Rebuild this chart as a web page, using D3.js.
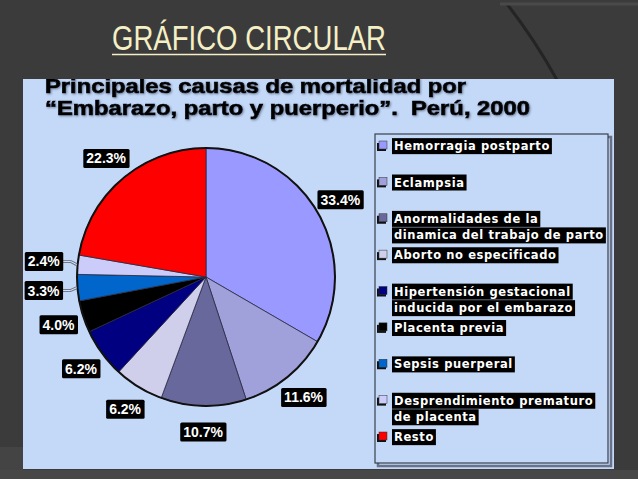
<!DOCTYPE html>
<html>
<head>
    <meta charset="UTF-8">
    <title>Gráfico circular</title>
    <script src="https://d3js.org/d3.v7.min.js"></script>
    <style>
        body { margin: 0; background: #3b3b3b; }
        svg { display: block; }
    </style>
</head>
<body>
    <svg id="chart"></svg>

    <script>
        // data
        const causes = [
            "Hemorragia postparto",
            "Eclampsia",
            "Anormalidades de la|dinamica del trabajo de parto",
            "Aborto no especificado",
            "Hipertensión gestacional|inducida por el embarazo",
            "Placenta previa",
            "Sepsis puerperal",
            "Desprendimiento prematuro|de placenta",
            "Resto"
        ];
        const values = [33.4, 11.6, 10.7, 6.2, 6.2, 4.0, 3.3, 2.4, 22.3];
        const labels = ["33.4%", "11.6%", "10.7%", "6.2%", "6.2%", "4.0%", "3.3%", "2.4%", "22.3%"];
        const colors = ["#9999ff", "#a0a0da", "#68689c", "#cfcfec", "#000080",
            "#000000", "#0066cc", "#ccccfa", "#ff0000"];

        const width = 638, height = 479;
        const cx = 206, cy = 277, radius = 129;

        const svg = d3.select("#chart")
            .attr("width", width)
            .attr("height", height);

        // slide background
        svg.append("rect").attr("width", width).attr("height", height).attr("fill", "#3b3b3b");
        svg.append("rect").attr("x", 0).attr("y", 447).attr("width", 23).attr("height", 32).attr("fill", "#444");
        svg.append("rect").attr("x", 0).attr("y", 470).attr("width", width).attr("height", 9).attr("fill", "#474747");
        svg.append("path")
            .attr("d", "M507,4 Q535,40 557,80")
            .attr("fill", "none").attr("stroke", "#242424").attr("stroke-width", 3);
        svg.append("line")
            .attr("x1", 500).attr("y1", 4).attr("x2", 638).attr("y2", 4)
            .attr("stroke", "#4a4a4a").attr("stroke-width", 3);

        // slide title
        svg.append("text")
            .attr("x", 112).attr("y", 50)
            .attr("textLength", 274)
            .attr("lengthAdjust", "spacingAndGlyphs")
            .style("font-family", "'Liberation Sans Narrow', 'Liberation Sans', sans-serif")
            .style("font-size", "35px")
            .attr("fill", "#f5efc6")
            .text("GRÁFICO CIRCULAR");
        svg.append("line")
            .attr("x1", 112).attr("x2", 386).attr("y1", 54.5).attr("y2", 54.5)
            .attr("stroke", "#f5efc6").attr("stroke-width", 1.5);

        // light blue panel
        svg.append("rect")
            .attr("x", 23).attr("y", 79).attr("width", 591).attr("height", 390)
            .attr("fill", "#c3d9f7");

        const defs = svg.append("defs");
        defs.append("filter").attr("id", "shadow")
            .append("feDropShadow")
            .attr("dx", 1).attr("dy", 1).attr("stdDeviation", 0.8)
            .attr("flood-color", "#55607a").attr("flood-opacity", 0.7);
        defs.append("clipPath").attr("id", "panelclip")
            .append("rect").attr("x", 23).attr("y", 79).attr("width", 591).attr("height", 390);

        // chart heading
        const heading = svg.append("g")
            .attr("clip-path", "url(#panelclip)")
            .attr("filter", "url(#shadow)")
            .style("font-family", "'Liberation Sans', Arial, sans-serif")
            .style("font-weight", "bold")
            .style("font-size", "21px")
            .attr("fill", "#000")
            .attr("stroke", "#000")
            .attr("stroke-width", 0.7);
        heading.append("text").attr("x", 45).attr("y", 93)
            .attr("textLength", 421).attr("lengthAdjust", "spacingAndGlyphs")
            .text("Principales causas de mortalidad por");
        heading.append("text").attr("x", 45).attr("y", 115)
            .attr("textLength", 485).attr("lengthAdjust", "spacingAndGlyphs")
            .style("white-space", "pre")
            .text("“Embarazo, parto y puerperio”.  Perú, 2000");

        // pie
        const pie = d3.pie().sort(null).value(d => d)
            .startAngle(0).endAngle(2 * Math.PI);
        const arcs = pie(values);
        const arc = d3.arc().innerRadius(0).outerRadius(radius);
        const labelArc = d => {
            const r = d.data < 3.5 ? 163 : 155;
            return d3.arc().innerRadius(r).outerRadius(r).centroid(d);
        };

        const g = svg.append("g").attr("transform", `translate(${cx},${cy})`);

        g.selectAll("path.slice")
            .data(arcs)
            .join("path")
            .attr("class", "slice")
            .attr("d", arc)
            .attr("fill", (d, i) => colors[i])
            .attr("stroke", "#2a2a40")
            .attr("stroke-width", 0.8)
            .attr("stroke-linejoin", "round");
        g.append("circle")
            .attr("r", radius)
            .attr("fill", "none")
            .attr("stroke", "#111")
            .attr("stroke-width", 2);

        // leader lines for the small slices
        const leaders = arcs.filter(d => d.data < 3.5);
        const edgeArc = d3.arc().innerRadius(radius + 1).outerRadius(radius + 1);
        const leaderPath = d => {
            const [lx, ly] = labelArc(d);
            const [ex, ey] = edgeArc.centroid(d);
            return `M${lx + 18},${ly} L${ex - 6},${ly} L${ex},${ey}`;
        };
        g.selectAll("path.leader-o")
            .data(leaders)
            .join("path")
            .attr("d", leaderPath)
            .attr("fill", "none").attr("stroke", "#6f7890").attr("stroke-width", 3);
        g.selectAll("path.leader-i")
            .data(leaders)
            .join("path")
            .attr("d", leaderPath)
            .attr("fill", "none").attr("stroke", "#dfe6f2").attr("stroke-width", 1);

        // percent labels in black boxes
        const lab = g.selectAll("g.lab")
            .data(arcs)
            .join("g")
            .attr("class", "lab")
            .attr("transform", d => `translate(${labelArc(d)})`);
        lab.append("rect").attr("fill", "#000").attr("rx", 1.5);
        lab.append("text")
            .attr("text-anchor", "middle")
            .attr("dy", "0.36em")
            .style("font-family", "'Liberation Sans', Arial, sans-serif")
            .style("font-weight", "bold")
            .style("font-size", "14px")
            .attr("fill", "#fff")
            .text((d, i) => labels[i]);
        lab.each(function () {
            const bb = d3.select(this).select("text").node().getBBox();
            d3.select(this).select("rect")
                .attr("x", bb.x - 3).attr("y", bb.y - 1.5)
                .attr("width", bb.width + 6).attr("height", bb.height + 3);
        });

        // legend
        const lx0 = 375, ly0 = 134, lw = 233, lh = 329;
        svg.append("rect")
            .attr("x", lx0 + 3).attr("y", ly0 + 3).attr("width", lw).attr("height", lh)
            .attr("fill", "none").attr("stroke", "#6a7288").attr("stroke-width", 2.5);
        svg.append("rect")
            .attr("x", lx0).attr("y", ly0).attr("width", lw).attr("height", lh)
            .attr("fill", "#c3d9f7").attr("stroke", "#3a3f4c").attr("stroke-width", 1.2);

        const ly = d3.scalePoint()
            .domain(d3.range(causes.length))
            .range([146, 437]);
        const lineH = 16.5;

        const item = svg.append("g").selectAll("g")
            .data(causes)
            .join("g")
            .attr("transform", (d, i) => `translate(${lx0 + 3},${ly(i)})`);
        item.append("rect")
            .attr("x", -1).attr("y", -3).attr("width", 9).attr("height", 8)
            .attr("fill", "#111");
        item.append("rect")
            .attr("x", 1).attr("y", -5).attr("width", 8).attr("height", 8)
            .attr("fill", (d, i) => colors[i])
            .attr("stroke", "#333").attr("stroke-width", 0.5);

        item.each(function (d) {
            const sel = d3.select(this);
            d.split("|").forEach((line, k) => {
                const t = sel.append("text")
                    .attr("x", 16).attr("y", k * lineH)
                    .attr("dy", "0.36em")
                    .style("font-family", "'DejaVu Sans', Verdana, sans-serif")
                    .style("font-weight", "bold")
                    .style("font-size", "11.5px")
                    .style("letter-spacing", "0.6px")
                    .attr("fill", "#fff")
                    .text(line);
                const bb = t.node().getBBox();
                sel.insert("rect", "text")
                    .attr("x", bb.x - 2).attr("y", bb.y - 1)
                    .attr("width", bb.width + 4).attr("height", bb.height + 2)
                    .attr("fill", "#000");
            });
        });
    </script>
</body>
</html>
